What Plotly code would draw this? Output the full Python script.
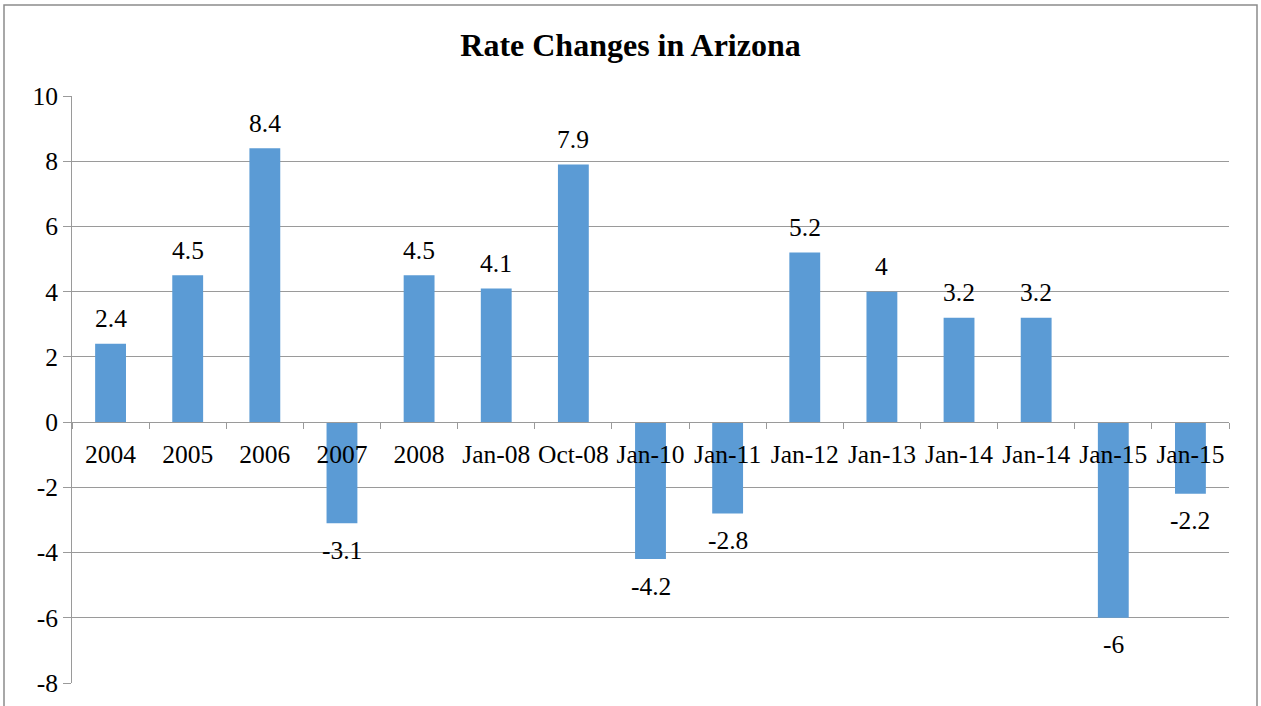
import plotly.graph_objects as go

categories = ["2004", "2005", "2006", "2007", "2008", "Jan-08", "Oct-08", "Jan-10",
              "Jan-11", "Jan-12", "Jan-13", "Jan-14", "Jan-14", "Jan-15", "Jan-15"]
rate_changes = [2.4, 4.5, 8.4, -3.1, 4.5, 4.1, 7.9, -4.2, -2.8, 5.2, 4, 3.2, 3.2, -6, -2.2]
y_ticks = [10, 8, 6, 4, 2, 0, -2, -4, -6, -8]

FONT = "Times New Roman"
GRID = "#9a9a9a"
LABEL_SIZE = 25.5
y_min, y_max = -8, 10

# categories repeat, so plot on numeric positions and relabel the ticks
xpos = list(range(len(categories)))

fig = go.Figure()
fig.add_trace(go.Bar(
    x=xpos,
    y=rate_changes,
    marker=dict(color="#5B9BD5", line=dict(width=0)),
    width=0.4,
))

# data labels above positive bars, below negative ones
for x, v in zip(xpos, rate_changes):
    fig.add_annotation(
        x=x, y=v,
        text=f"{v:g}",
        showarrow=False,
        xanchor="center",
        yanchor="middle",
        yshift=25 if v >= 0 else -27,
        font=dict(family=FONT, size=LABEL_SIZE, color="black"),
    )

fig.update_layout(
    width=1261,
    height=706,
    margin=dict(l=72, r=32, t=96, b=23, autoexpand=False),
    paper_bgcolor="white",
    plot_bgcolor="white",
    showlegend=False,
    title=dict(
        text="<b>Rate Changes in Arizona</b>",
        x=0.5,
        xanchor="center",
        y=1 - 45 / 706,
        yanchor="middle",
        font=dict(family=FONT, size=32, color="black"),
    ),
    font=dict(family=FONT, size=LABEL_SIZE, color="black"),
)

fig.update_xaxes(
    range=[-0.5, len(categories) - 0.5],
    tickvals=xpos,
    ticktext=categories,
    ticks="outside",
    ticklen=9,
    tickcolor="rgba(0,0,0,0)",
    tickfont=dict(family=FONT, size=LABEL_SIZE, color="black"),
    showgrid=False,
    zeroline=False,
    showline=True,
    linecolor=GRID,
    anchor="free",
    position=(0 - y_min) / (y_max - y_min),
    automargin=False,
    minor=dict(
        tickvals=[i - 0.5 for i in range(len(categories) + 1)],
        ticks="outside",
        ticklen=6,
        tickcolor=GRID,
        showgrid=False,
    ),
)

fig.update_yaxes(
    range=[y_min, y_max],
    tickvals=y_ticks,
    ticktext=[str(t) for t in y_ticks],
    ticks="outside",
    ticklen=8,
    tickcolor=GRID,
    tickfont=dict(family=FONT, size=LABEL_SIZE, color="black"),
    showgrid=True,
    gridcolor=GRID,
    gridwidth=1,
    zeroline=False,
    showline=True,
    linecolor=GRID,
    automargin=False,
)

# outer chart border
fig.add_shape(
    type="rect",
    xref="paper", yref="paper",
    x0=(4 - 72) / 1157, x1=(1257 - 72) / 1157,
    y0=-0.2, y1=1 + 91 / 587,
    line=dict(color="#8c8c8c", width=1.5),
    fillcolor="rgba(0,0,0,0)",
    layer="below",
)

fig.write_html(
    "out.html",
    config={"displayModeBar": False},
    post_script="document.body.style.margin='0';",
)
